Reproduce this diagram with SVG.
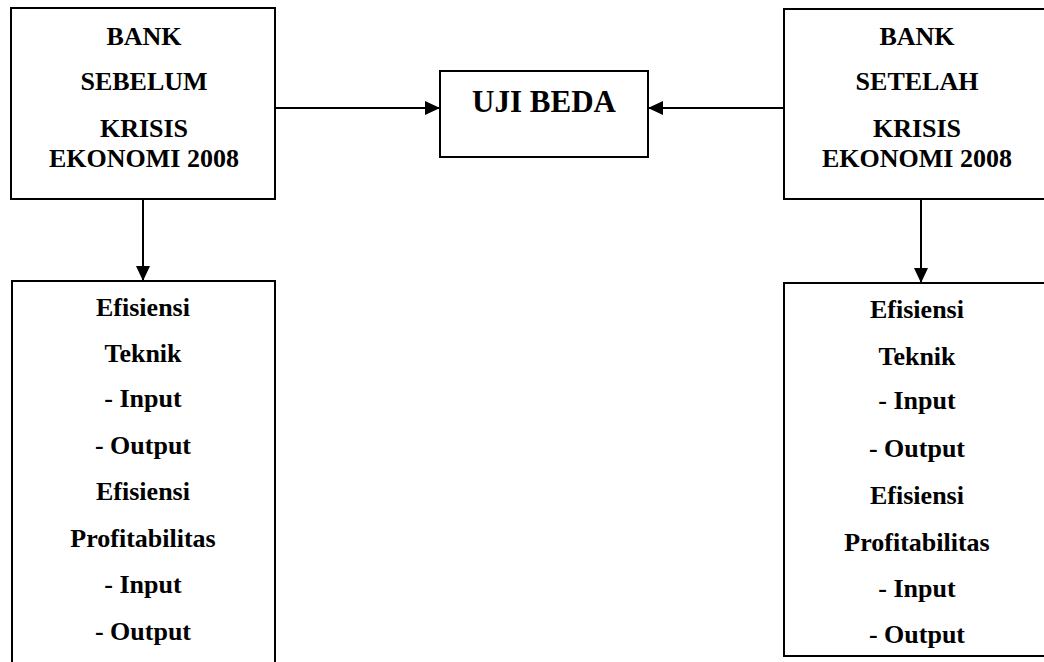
<svg xmlns="http://www.w3.org/2000/svg" width="1044" height="662" viewBox="0 0 1044 662">
<style>
.box{fill:#fff;stroke:#000;stroke-width:2}
.t{font-family:"Liberation Serif","Times New Roman",serif;font-weight:bold;font-size:26px;fill:#000;text-anchor:middle}
.big{font-size:31px}
.c{stroke:#000;stroke-width:2;fill:none}
</style>
<defs>
<marker id="ah" markerUnits="userSpaceOnUse" markerWidth="16" markerHeight="16" viewBox="0 0 16 16" refX="15" refY="8" orient="auto">
<path d="M0,1 L15,8 L0,15 Z" fill="#000"/>
</marker>
</defs>
<rect width="1044" height="662" fill="#fff"/>
<g id="connectors">
<line class="c" x1="275" y1="108" x2="440" y2="108" marker-end="url(#ah)"/>
<line class="c" x1="784" y1="108" x2="648" y2="108" marker-end="url(#ah)"/>
<line class="c" x1="143" y1="199" x2="143" y2="281" marker-end="url(#ah)"/>
<line class="c" x1="921" y1="199" x2="921" y2="283" marker-end="url(#ah)"/>
</g>
<g id="bank-sebelum">
<rect class="box" x="11" y="8" width="264" height="191"/>
<text class="t" x="144" y="45">BANK</text>
<text class="t" x="144" y="90">SEBELUM</text>
<text class="t" x="144" y="137">KRISIS</text>
<text class="t" x="144" y="167">EKONOMI 2008</text>
</g>
<g id="uji-beda">
<rect class="box" x="440" y="71" width="208" height="86"/>
<text class="t big" x="544" y="112">UJI BEDA</text>
</g>
<g id="bank-setelah">
<rect class="box" x="784" y="9" width="270" height="190"/>
<text class="t" x="917" y="45">BANK</text>
<text class="t" x="917" y="90">SETELAH</text>
<text class="t" x="917" y="137">KRISIS</text>
<text class="t" x="917" y="167">EKONOMI 2008</text>
</g>
<g id="efisiensi-sebelum">
<rect class="box" x="12" y="281" width="263" height="400"/>
<text class="t" x="143" y="316">Efisiensi</text>
<text class="t" x="143" y="362">Teknik</text>
<text class="t" x="143" y="407">- Input</text>
<text class="t" x="143" y="454">- Output</text>
<text class="t" x="143" y="500">Efisiensi</text>
<text class="t" x="143" y="547">Profitabilitas</text>
<text class="t" x="143" y="593">- Input</text>
<text class="t" x="143" y="640">- Output</text>
</g>
<g id="efisiensi-setelah">
<rect class="box" x="784" y="283" width="270" height="373"/>
<text class="t" x="917" y="318">Efisiensi</text>
<text class="t" x="917" y="365">Teknik</text>
<text class="t" x="917" y="409">- Input</text>
<text class="t" x="917" y="457">- Output</text>
<text class="t" x="917" y="504">Efisiensi</text>
<text class="t" x="917" y="551">Profitabilitas</text>
<text class="t" x="917" y="597">- Input</text>
<text class="t" x="917" y="643">- Output</text>
</g>
</svg>
